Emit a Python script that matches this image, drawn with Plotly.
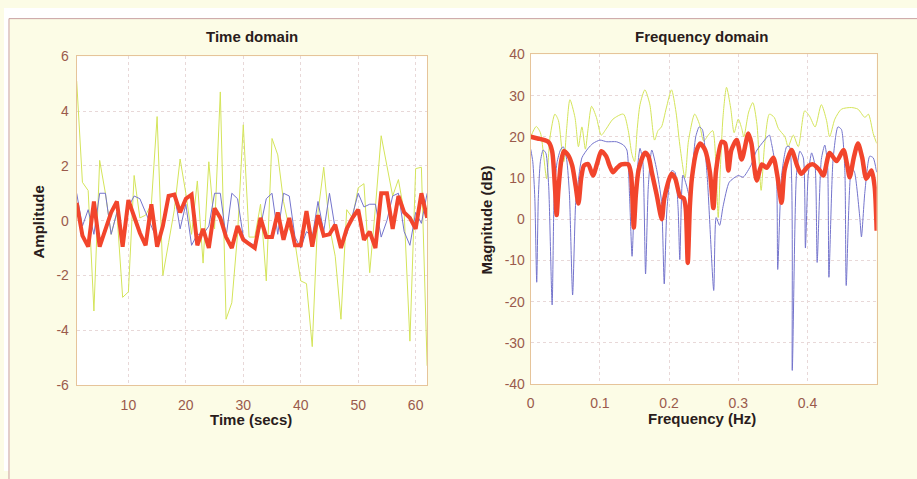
import plotly.graph_objects as go

# ---------------- Time domain data ----------------
time_s = list(range(1, 63))
sig_green = [5.1, 1.4, 1.1, -3.3, 2.2, 1.0, -0.5, 0.3, -2.8, -2.6,
             1.65, 0.1, 0.2, 0.6, 3.8, -2.0, -0.8, 0.4, 2.25, 1.0,
             -0.5, 1.45, -1.55, 2.15, -0.3, 4.7, -3.6, -3.0, -0.5, 3.5,
             -0.6, -0.6, 0.6, -2.2, 3.0, 2.4, 0.7, -0.3, -0.8, -2.2,
             -2.3, -4.6, 0.3, 1.95, -0.2, -1.3, -3.6, 0.4, 0.1, 1.2,
             1.35, -1.9, 0.5, 3.1, 2.0, 0.9, 1.5, 0.3, -4.4, 1.9,
             1.95, -5.3]
sig_blue = [1.0, -0.2, 0.4, -0.5, 1.0, 1.0, -0.5, 0.3, -0.8, 0.5,
            0.9, 0.8, 0.3, -0.2, -0.7, -0.3, 0.8, 1.0, -0.3, 0.6,
            -0.9, -0.5, -0.5, -0.2, 1.0, 1.0, -0.6, 1.0, 0.8, -0.6,
            -0.8, -0.9, -0.2, 0.8, 1.0, -0.5, 1.0, 0.9, -0.6, -1.0,
            -0.4, -0.6, 0.7, -0.4, 1.0, -0.3, -0.9, -0.5, 0.2, 1.0,
            0.5, 0.6, 0.6, -0.6, 0.0, 0.9, 1.0, -0.4, -0.9, 0.3,
            -0.1, 1.0]
sig_red = [0.65, -0.55, -0.95, 0.7, -0.95, -0.3, 0.3, 0.7, -0.95, 0.75,
           0.15, -0.45, -0.9, 0.6, -0.95, -0.2, 0.9, 0.95, 0.3, 0.8,
           0.95, -0.9, -0.3, -1.0, 0.45, 0.1, -0.6, -1.0, -0.2, -0.7,
           -0.85, -1.0, 0.1, -0.6, -0.6, 0.3, -0.7, 0.1, -0.9, -0.9,
           0.35, -0.95, 0.2, -0.55, -0.5, -0.15, -1.0, -0.3, 0.1, 0.4,
           -0.7, -0.4, -1.0, 1.0, 1.0, -0.3, 0.9, 0.3, 0.1, -0.3,
           1.0, 0.1]
time_ticks = [10, 20, 30, 40, 50, 60]
amp_ticks = [-6, -4, -2, 0, 2, 4, 6]

# ---------------- Frequency domain data ----------------
f_green = [0.000, 0.008, 0.014, 0.019, 0.023, 0.028, 0.035, 0.040, 0.045, 0.048,
           0.052, 0.0567, 0.064, 0.069, 0.074, 0.079, 0.083, 0.088, 0.095, 0.102,
           0.109, 0.119, 0.134, 0.141, 0.146, 0.150, 0.154, 0.158, 0.165, 0.172,
           0.179, 0.184, 0.189, 0.196, 0.2035, 0.210, 0.2155, 0.223, 0.228, 0.237,
           0.244, 0.250, 0.257, 0.263, 0.268, 0.271, 0.274, 0.278, 0.283, 0.289,
           0.294, 0.300, 0.305, 0.308, 0.315, 0.321, 0.327, 0.333, 0.338, 0.345,
           0.352, 0.358, 0.3674, 0.372, 0.3795, 0.3867, 0.396, 0.403, 0.411, 0.420,
           0.4275, 0.432, 0.4396, 0.449, 0.4635, 0.473, 0.483, 0.488, 0.495, 0.500]
db_green = [20, 22.5, 21, 15, 9.8, 20, 25.5, 24, 17, 14,
            22, 29, 24.7, 17.6, 22.4, 17, 22, 27.4, 24.7, 20.4,
            21.9, 24.3, 25.5, 21.5, 16, 14, 22, 27.8, 31.4, 28,
            19.2, 21.5, 22.4, 27, 31.4, 26, 18, 10, 19, 25.5,
            23, 19, 20.5, 21.5, 12, 0.4, 12, 25, 32, 27,
            21, 24.3, 22, 20, 26, 28.3, 23, 7, 18, 25.5,
            24.7, 22, 20, 17.6, 20.4, 17.6, 26.3, 25, 22.4, 27.8,
            24, 20, 24.3, 26.7, 27.1, 26.7, 24.7, 25.5, 20.8, 18.4]

f_blue = [0.000, 0.003, 0.006, 0.0087, 0.011, 0.014, 0.018, 0.022, 0.026, 0.031,
          0.034, 0.038, 0.043, 0.047, 0.052, 0.056, 0.0606, 0.065, 0.068, 0.074,
          0.083, 0.090, 0.100, 0.110, 0.124, 0.134, 0.139, 0.143, 0.1465, 0.150,
          0.154, 0.158, 0.162, 0.166, 0.170, 0.175, 0.182, 0.189, 0.193, 0.197,
          0.204, 0.2085, 0.213, 0.2155, 0.220, 0.225, 0.2295, 0.234, 0.2385, 0.2435,
          0.248, 0.255, 0.2645, 0.268, 0.273, 0.278, 0.287, 0.300, 0.307, 0.319,
          0.326, 0.338, 0.345, 0.348, 0.355, 0.357, 0.3626, 0.370, 0.374, 0.378,
          0.384, 0.389, 0.394, 0.397, 0.401, 0.406, 0.411, 0.414, 0.420, 0.425,
          0.429, 0.431, 0.437, 0.444, 0.449, 0.454, 0.456, 0.4636, 0.468, 0.4756,
          0.478, 0.483, 0.490, 0.495, 0.500]
db_blue = [17, 14, 5, -15.3, 5, 14, 16.8, 16, 8, -20.8,
           6, 13.7, 16.8, 17.6, 14.5, 6, -18.4, 4, 8.2, 14.9,
           17.2, 18.4, 19.2, 18.8, 18.8, 18, 16.8, 5, -9, 5,
           12, 17.2, 14, -13.3, 8, 16.8, 12.1, 4.3, -15.7, 2.7,
           11.8, 11.4, 2.7, -9.8, 10.7, 8.3, 5.5, 12.9, 20, 22.4,
           21.8, 10.6, -17.3, 0.4, -1.5, 3.1, 9, 10.6, 10.2, 13.3,
           16.5, 19.2, 20.4, 18.4, 11.4, -12.2, 10.6, 17.6, 17.6, -36.7,
           10.6, 16.5, 14.9, -7, 10.6, 16.1, 12.9, -10.5, 14.5, 18,
           13.3, -14.1, 14.5, 22.4, 21.8, 11.8, -16.1, 12.5, 11.4, 0.4,
           -4.3, 6.7, 15.3, 14.9, 11.4]

f_red = [0.000, 0.010, 0.020, 0.026, 0.031, 0.035, 0.0375, 0.040, 0.044, 0.048,
         0.054, 0.060, 0.065, 0.069, 0.073, 0.077, 0.083, 0.090, 0.096, 0.102,
         0.109, 0.114, 0.119, 0.125, 0.131, 0.141, 0.145, 0.149, 0.152, 0.156,
         0.165, 0.170, 0.175, 0.182, 0.1895, 0.193, 0.2035, 0.209, 0.216, 0.221,
         0.224, 0.227, 0.230, 0.233, 0.240, 0.245, 0.252, 0.259, 0.264, 0.268,
         0.276, 0.281, 0.2857, 0.290, 0.2977, 0.305, 0.3145, 0.319, 0.3266, 0.334,
         0.341, 0.3506, 0.356, 0.3626, 0.367, 0.377, 0.385, 0.391, 0.401, 0.408,
         0.417, 0.423, 0.432, 0.442, 0.452, 0.457, 0.461, 0.467, 0.473, 0.479,
         0.485, 0.4925, 0.497, 0.500]
db_red = [20.0, 19.6, 19.2, 18.7, 16.5, 8, 1.0, 7, 14, 16.5,
          15.6, 13, 8, 3.8, 10, 13, 13.4, 10.6, 13.5, 16.5,
          15.3, 13, 11.4, 12.5, 13.3, 13.3, 11, -2, 6, 12,
          16.1, 15.3, 11.4, 6, 0.0, 5, 11, 9.8, 5.5, 5.1,
          2.7, -10.6, 3, 10, 16.8, 18.4, 16.8, 11.4, 2.7, 12,
          18.8, 18.4, 11.8, 16.8, 19.2, 14.5, 20.8, 18.4, 9.4, 13.3,
          12.5, 14.9, 11, 4.0, 12, 16.8, 13, 11, 12.9, 13.3,
          12, 10.6, 16.1, 14.1, 16.8, 13.5, 10.2, 15, 18.4, 15,
          9.8, 11.8, 8, -2.8]
freq_ticks = [0, 0.1, 0.2, 0.3, 0.4]
db_ticks = [-40, -30, -20, -10, 0, 10, 20, 30, 40]


def lbl(v):
    return ("%g" % v)


GREEN = "#d4e45a"
BLUE = "#7474cc"
RED = "#f2452c"

fig = go.Figure()
fig.add_trace(go.Scatter(x=time_s, y=sig_green, mode="lines",
                         line=dict(color=GREEN, width=1), xaxis="x", yaxis="y", showlegend=False))
fig.add_trace(go.Scatter(x=time_s, y=sig_blue, mode="lines",
                         line=dict(color=BLUE, width=1), xaxis="x", yaxis="y", showlegend=False))
fig.add_trace(go.Scatter(x=time_s, y=sig_red, mode="lines",
                         line=dict(color=RED, width=4), xaxis="x", yaxis="y", showlegend=False))

fig.add_trace(go.Scatter(x=f_green, y=db_green, mode="lines",
                         line=dict(color=GREEN, width=1, shape="spline", smoothing=0.7),
                         xaxis="x2", yaxis="y2", showlegend=False))
fig.add_trace(go.Scatter(x=f_blue, y=db_blue, mode="lines",
                         line=dict(color=BLUE, width=1, shape="spline", smoothing=0.6),
                         xaxis="x2", yaxis="y2", showlegend=False))
fig.add_trace(go.Scatter(x=f_red, y=db_red, mode="lines",
                         line=dict(color=RED, width=4.5, shape="spline", smoothing=0.7),
                         xaxis="x2", yaxis="y2", showlegend=False))

W, H = 917, 479
CREAM = "#fcfce6"
TICKFONT = dict(family="Liberation Sans, Arial, sans-serif", size=14, color="#9a5a4c")
TITLEFONT = dict(family="Liberation Sans Narrow, Arial Narrow, Liberation Sans, Arial", size=15, color="#2a1c1c")
GRID = "#e8d8d8"
FRAME = "#e6c49a"

axis_common = dict(showgrid=True, gridcolor=GRID, griddash="dot", gridwidth=1,
                   zeroline=False, showline=True, linecolor=FRAME, linewidth=1, mirror=True,
                   tickfont=TICKFONT, tickcolor="rgba(0,0,0,0)", ticks="outside")

fig.update_layout(
    width=W, height=H,
    margin=dict(l=0, r=0, t=0, b=0),
    paper_bgcolor=CREAM,
    plot_bgcolor="white",
    xaxis=dict(domain=[73 / W, 425 / W], range=[1, 62], tickvals=time_ticks,
               ticktext=[lbl(v) for v in time_ticks], anchor="y", ticklen=7, **axis_common),
    yaxis=dict(domain=[1 - 390 / H, 1 - 50 / H], range=[-6, 6], tickvals=amp_ticks,
               ticktext=[lbl(v) for v in amp_ticks], anchor="x", ticklen=4, **axis_common),
    xaxis2=dict(domain=[529 / W, 876.5 / W], range=[0, 0.5], tickvals=freq_ticks,
                ticktext=[lbl(v) for v in freq_ticks], anchor="y2", ticklen=6, **axis_common),
    yaxis2=dict(domain=[1 - 389 / H, 1 - 48 / H], range=[-40, 40], tickvals=db_ticks,
                ticktext=[lbl(v) for v in db_ticks], anchor="x2", ticklen=2, **axis_common),
    shapes=[
        dict(type="rect", xref="paper", yref="paper", layer="below",
             x0=0, x1=1, y0=1 - 11 / H, y1=1, line=dict(width=0), fillcolor="white"),
        dict(type="rect", xref="paper", yref="paper", layer="below",
             x0=0, x1=5 / W, y0=0, y1=1, line=dict(width=0), fillcolor="white"),
        dict(type="rect", xref="paper", yref="paper", layer="below",
             x0=5 / W, x1=1.02, y0=-0.02, y1=1 - 11 / H,
             line=dict(color="#c9a0a0", width=1), fillcolor="rgba(0,0,0,0)"),
    ],
    annotations=[
        dict(text="<b>Time domain</b>", x=249 / W, y=1 - 29 / H, xref="paper", yref="paper",
             showarrow=False, xanchor="center", yanchor="middle", font=TITLEFONT),
        dict(text="<b>Frequency domain</b>", x=701 / W, y=1 - 29 / H, xref="paper", yref="paper",
             showarrow=False, xanchor="center", yanchor="middle", font=TITLEFONT),
        dict(text="<b>Time (secs)</b>", x=248 / W, y=1 - 426 / H, xref="paper", yref="paper",
             showarrow=False, xanchor="center", yanchor="middle", font=TITLEFONT),
        dict(text="<b>Frequency (Hz)</b>", x=701 / W, y=1 - 425 / H, xref="paper", yref="paper",
             showarrow=False, xanchor="center", yanchor="middle", font=TITLEFONT),
        dict(text="<b>Amplitude</b>", x=35 / W, y=1 - 221 / H, xref="paper", yref="paper",
             showarrow=False, xanchor="center", yanchor="middle", textangle=-90, font=TITLEFONT),
        dict(text="<b>Magnitude (dB)</b>", x=485 / W, y=1 - 219 / H, xref="paper", yref="paper",
             showarrow=False, xanchor="center", yanchor="middle", textangle=-90, font=TITLEFONT),
    ],
)

fig.write_html("out.html",
               config={"displayModeBar": False},
               post_script="document.body.style.margin='0px';document.body.style.padding='0px';"
                           "document.documentElement.style.overflow='hidden';")
